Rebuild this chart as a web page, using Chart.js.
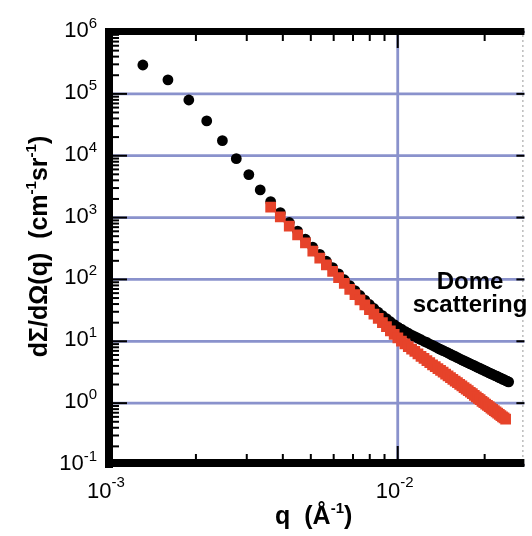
<!DOCTYPE html>
<html><head><meta charset="utf-8">
<style>html,body{margin:0;padding:0;background:#fff;overflow:hidden}canvas{display:block}</style>
<script src="https://cdn.jsdelivr.net/npm/chart.js@4.4.1/dist/chart.umd.min.js"></script>
</head><body>
<canvas id="c" width="532" height="536"></canvas>
<script>
// q in units of 10^-3 Å^-1
const qBlackMilli = [1.31,1.60,1.89,2.18,2.47,2.76,3.05,3.34,3.63,3.92,4.21,4.50,4.79,5.08,5.37,5.66,5.95,6.24,6.53,6.82,7.11,7.40,7.69,7.98,8.27,8.56,8.85,9.14,9.43,9.72,10.01,10.30,10.59,10.88,11.17,11.46,11.75,12.04,12.33,12.62,12.91,13.20,13.49,13.78,14.07,14.36,14.65,14.94,15.23,15.52,15.81,16.10,16.39,16.68,16.97,17.26,17.55,17.84,18.13,18.42,18.71,19.00,19.29,19.58,19.87,20.16,20.45,20.74,21.03,21.32,21.61,21.90,22.19,22.48,22.77,23.06,23.35,23.64,23.93,24.22];
const iBlack = [293000,168000,79500,36500,17500,8970,4950,2800,1811,1202,832,603,447,331,254,197,155,123,98.9,79.4,66.1,55.0,46.2,39.4,33.9,29.5,26.0,23.2,20.7,18.6,17.0,15.7,14.5,13.5,12.6,11.9,11.2,10.6,10.0,9.55,9.02,8.61,8.17,7.76,7.41,7.08,6.76,6.46,6.17,5.92,5.68,5.43,5.21,5.01,4.82,4.65,4.48,4.32,4.17,4.02,3.88,3.75,3.63,3.51,3.40,3.30,3.19,3.09,3.00,2.91,2.82,2.75,2.67,2.59,2.53,2.45,2.39,2.32,2.26,2.21];
const qRedMilli = [3.63,3.92,4.21,4.50,4.79,5.08,5.37,5.66,5.95,6.24,6.53,6.82,7.11,7.40,7.69,7.98,8.27,8.56,8.85,9.14,9.43,9.72,10.01,10.30,10.59,10.88,11.17,11.46,11.75,12.04,12.33,12.62,12.91,13.20,13.49,13.78,14.07,14.36,14.65,14.94,15.23,15.52,15.81,16.10,16.39,16.68,16.97,17.26,17.55,17.84,18.13,18.42,18.71,19.00,19.29,19.58,19.87,20.16,20.45,20.74,21.03,21.32,21.61,21.90,22.19,22.48,22.77,23.06,23.35,23.64];
const iRed = [1479,1023,724,525,389,288,221,172,135,107,86.1,69.2,56.9,46.8,38.9,32.4,27.5,23.4,19.95,17.2,14.8,12.9,11.35,10.1,9.12,8.22,7.50,6.84,6.24,5.71,5.27,4.88,4.51,4.17,3.89,3.63,3.39,3.16,2.95,2.77,2.59,2.43,2.28,2.14,2.01,1.90,1.78,1.68,1.59,1.50,1.42,1.34,1.26,1.19,1.135,1.07,1.02,0.968,0.918,0.875,0.832,0.792,0.755,0.724,0.690,0.658,0.631,0.601,0.577,0.550];
const xTickExps = [-3, -2];
const yTickExps = [-1, 0, 1, 2, 3, 4, 5, 6];
const xMin = 0.001, xMax = 0.02746;
const yMin = 0.1, yMax = 1e6;
const annotationLines = ['Dome', 'scattering'];

const FONT = '"Liberation Sans", Arial, Helvetica, sans-serif';
const GRID = '#8a92cc';

function richWidth(ctx, parts) {
  let w = 0;
  parts.forEach(p => { ctx.font = p.f; w += ctx.measureText(p.t).width; });
  return w;
}
function drawRich(ctx, parts, x, y) {
  let cx = x;
  parts.forEach(p => {
    ctx.font = p.f;
    ctx.fillText(p.t, cx, y + (p.dy || 0));
    cx += ctx.measureText(p.t).width;
  });
}
function minorValues(lo, hi) {
  const out = [];
  for (let e = Math.floor(Math.log10(lo)); e <= Math.ceil(Math.log10(hi)); e++) {
    for (let k = 1; k <= 9; k++) {
      const v = k * Math.pow(10, e);
      if (v >= lo * 0.9999 && v <= hi * 1.0001) out.push({v, major: k === 1});
    }
  }
  return out;
}

const framePlugin = {
  id: 'frame',
  beforeDatasetsDraw(chart) {
    const {ctx, chartArea: a, scales: {x, y}} = chart;
    ctx.save();
    ctx.strokeStyle = GRID; ctx.lineWidth = 2.8;
    yTickExps.forEach(e => {
      const py = y.getPixelForValue(Math.pow(10, e));
      ctx.beginPath(); ctx.moveTo(a.left, py); ctx.lineTo(a.right, py); ctx.stroke();
    });
    xTickExps.forEach(e => {
      const px = x.getPixelForValue(Math.pow(10, e));
      ctx.beginPath(); ctx.moveTo(px, a.top); ctx.lineTo(px, a.bottom); ctx.stroke();
    });
    ctx.restore();
  },
  afterDatasetsDraw(chart) {
    const {ctx, chartArea: a, scales: {x, y}} = chart;
    ctx.save();
    ctx.fillStyle = '#000';
    // borders
    ctx.fillRect(a.left - 4, a.top - 4, 8, a.bottom - a.top + 7);
    ctx.fillRect(a.left - 4, a.top - 4, a.right - a.left + 4, 7);
    ctx.fillRect(a.left - 4, a.bottom - 6, a.right - a.left + 4, 8);
    // dashed right edge
    ctx.strokeStyle = '#9a9a9a'; ctx.lineWidth = 1; ctx.setLineDash([2, 3]);
    ctx.beginPath(); ctx.moveTo(a.right - 1.5, a.top + 3); ctx.lineTo(a.right - 1.5, a.bottom - 6); ctx.stroke();
    ctx.setLineDash([]);
    // left ticks
    minorValues(yMin, yMax).forEach(t => {
      const py = y.getPixelForValue(t.v);
      const len = t.major ? 14 : 6;
      ctx.fillRect(a.left + 4, py - 1, len, 2);
      if (t.major) ctx.fillRect(a.right - 8, py - 1, 8, 2);
    });
    // top & bottom ticks
    minorValues(xMin, xMax).forEach(t => {
      const px = x.getPixelForValue(t.v);
      if (px < a.left + 6) return;
      const lenT = t.major ? 13 : 6;
      const lenB = t.major ? 13 : 5;
      ctx.fillRect(px - 1, a.top + 3, 2, lenT);
      ctx.fillRect(px - 1, a.bottom - 6 - lenB, 2, lenB);
    });
    ctx.restore();
  },
  afterDraw(chart) {
    const {ctx, chartArea: a, scales: {x, y}} = chart;
    ctx.save();
    ctx.fillStyle = '#000';
    ctx.textAlign = 'left';
    ctx.textBaseline = 'alphabetic';
    const base = '22px ' + FONT, sup = '15px ' + FONT;
    // y tick labels
    yTickExps.forEach(e => {
      const py = y.getPixelForValue(Math.pow(10, e));
      const parts = [{t: '10', f: base}, {t: String(e), f: sup, dy: -9}];
      const w = richWidth(ctx, parts);
      drawRich(ctx, parts, a.left - 12 - w, py + 5);
    });
    // x tick labels
    xTickExps.forEach(e => {
      const px = x.getPixelForValue(Math.pow(10, e));
      const parts = [{t: '10', f: base}, {t: String(e), f: sup, dy: -11}];
      const w = richWidth(ctx, parts);
      drawRich(ctx, parts, px - 3 - w / 2, 498);
    });
    // x title
    const bt = 'bold 25px ' + FONT, bs = 'bold 15px ' + FONT;
    const xt = [{t: 'q  (Å', f: bt}, {t: '-1', f: bs, dy: -11}, {t: ')', f: bt}];
    drawRich(ctx, xt, (a.left + a.right) / 2 - 3 - richWidth(ctx, xt) / 2, 524);
    // y title
    const yt = [{t: 'dΣ/dΩ(q)  (cm', f: bt}, {t: '-1', f: bs, dy: -11}, {t: 'sr', f: bt}, {t: '-1', f: bs, dy: -11}, {t: ')', f: bt}];
    ctx.save();
    ctx.translate(47, (a.top + a.bottom) / 2 - 2);
    ctx.rotate(-Math.PI / 2);
    drawRich(ctx, yt, -richWidth(ctx, yt) / 2, 0);
    ctx.restore();
    // annotation
    ctx.font = 'bold 24px ' + FONT; ctx.textAlign = 'center';
    ctx.fillText(annotationLines[0], 470, 289);
    ctx.fillText(annotationLines[1], 470, 312);
    ctx.restore();
  }
};

const blackData = qBlackMilli.map((q, i) => ({x: q * 1e-3, y: iBlack[i]}));
const redData = qRedMilli.map((q, i) => ({x: q * 1e-3, y: iRed[i]}));

new Chart(document.getElementById('c'), {
  type: 'scatter',
  data: {
    datasets: [
      {label: 'red', data: redData, pointStyle: 'rect', pointRadius: 7.6, pointHoverRadius: 7.6,
       backgroundColor: '#e6432a', borderWidth: 0},
      {label: 'black', data: blackData, pointStyle: 'circle', pointRadius: 5.4, pointHoverRadius: 5.4,
       backgroundColor: '#000', borderWidth: 0}
    ]
  },
  options: {
    responsive: false, animation: false, devicePixelRatio: 1,
    events: [],
    layout: {padding: {left: 109, top: 32, right: 0, bottom: 71}},
    plugins: {legend: {display: false}, tooltip: {enabled: false}},
    scales: {
      x: {type: 'logarithmic', min: xMin, max: xMax,
          grid: {display: false, drawTicks: false}, border: {display: false}, ticks: {display: false}},
      y: {type: 'logarithmic', min: yMin, max: yMax,
          grid: {display: false, drawTicks: false}, border: {display: false}, ticks: {display: false}}
    }
  },
  plugins: [framePlugin]
});
</script>
</body></html>
